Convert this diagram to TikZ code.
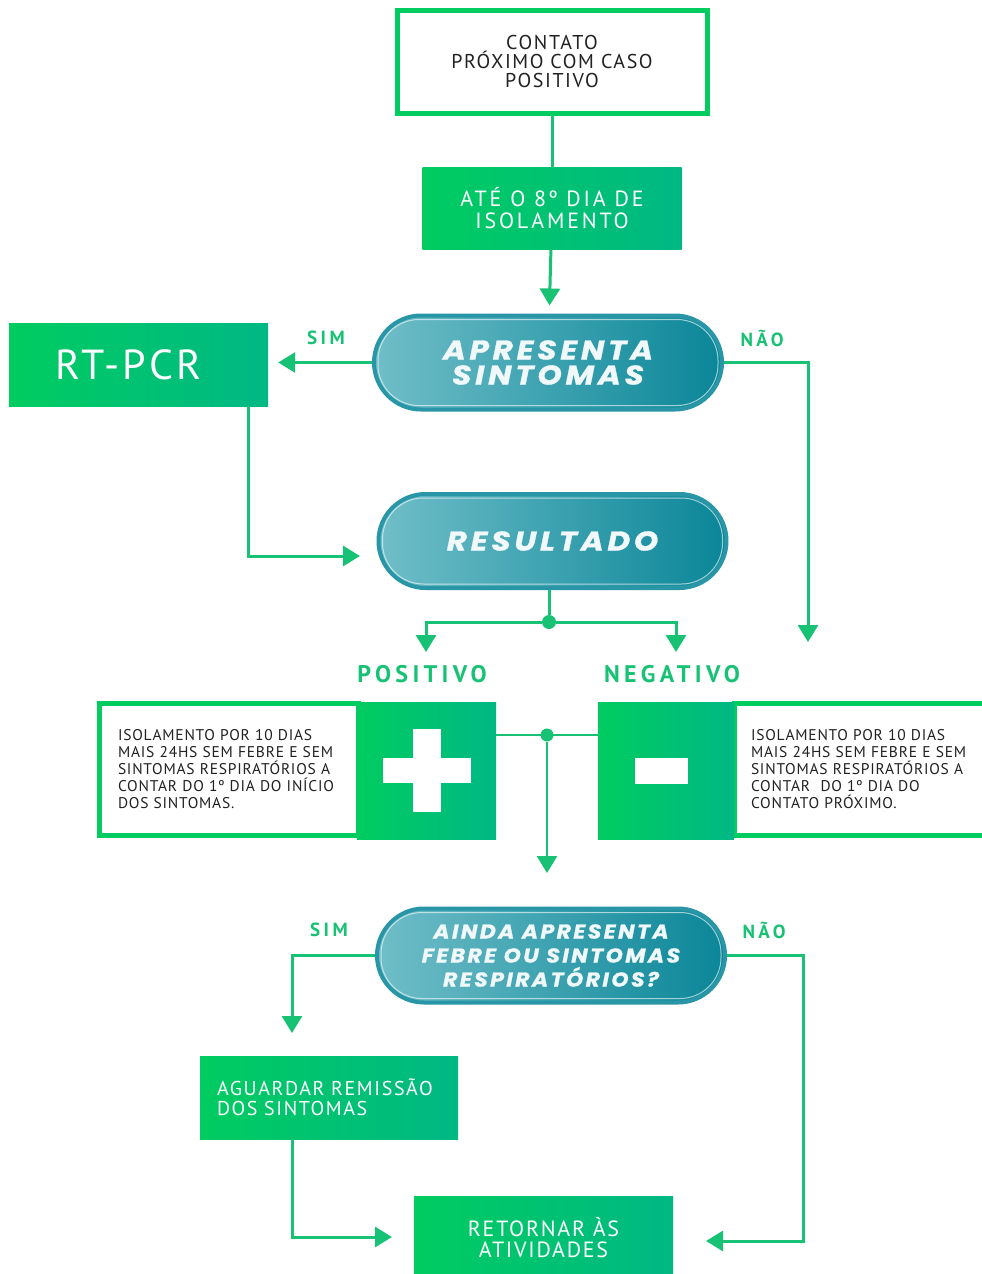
\documentclass[tikz,border=0pt]{standalone}
\usepackage{fontspec}
\setmainfont{PT Sans}
\newfontfamily\pillfont{Poppins}[LetterSpace=14, FakeStretch=1.15, FakeBold=1.2]
\newfontfamily\pillfontsm{Poppins}[LetterSpace=12, FakeStretch=1.1, FakeBold=1.2]
\newfontfamily\boxfont{PT Sans}[LetterSpace=8]
\newfontfamily\atefont{PT Sans}[LetterSpace=13]
\newfontfamily\tagfont{PT Sans}[LetterSpace=18]
\newfontfamily\bodyfont{PT Sans}[LetterSpace=5]
\usetikzlibrary{positioning,arrows.meta}

\definecolor{linegreen}{RGB}{24,194,116}
\definecolor{boxgreenL}{RGB}{0,204,96}
\definecolor{boxgreenR}{RGB}{0,184,132}
\definecolor{pillL}{RGB}{112,190,200}
\definecolor{pillR}{RGB}{10,134,152}
\definecolor{pillring}{RGB}{40,150,166}
\definecolor{pilltext}{RGB}{240,248,250}
\definecolor{bodytext}{RGB}{34,34,34}

\tikzset{
  greenbox/.style={rectangle, left color=boxgreenL, right color=boxgreenR,
    text=white, inner sep=0pt},
  framebox/.style={rectangle, draw=boxgreenL, line width=5pt, fill=white,
    inner sep=0pt},
  pill/.style={rectangle, rounded corners=47pt, draw=pillring, line width=4pt,
    left color=pillL, right color=pillR, text=pilltext,
    minimum width=348pt, minimum height=94pt, align=center,
    font=\pillfont\bfseries\itshape\fontsize{27}{25}\selectfont},
  pillinner/.style={draw=white, opacity=.6, line width=1pt, rounded corners=41pt},
  conn/.style={draw=linegreen, line width=3pt},
  arr/.style={conn, -{Triangle[width=20pt,length=17pt]}},
  tag/.style={text=linegreen, font=\tagfont\bfseries\fontsize{19}{19}\selectfont},
  joint/.style={circle, fill=linegreen, inner sep=0pt, minimum size=14pt},
  bodybox/.style={framebox, minimum height=132pt, text width=222pt, align=left,
    text=bodytext, font=\bodyfont\fontsize{15.5}{17}\selectfont},
}

\begin{document}
\begin{tikzpicture}[x=1pt, y=-1pt]
  \path[use as bounding box, fill=white] (0,0) rectangle (982,1274);

  % boxes
  \node[framebox, minimum width=310pt, minimum height=103pt, align=center,
    text=bodytext, font=\boxfont\fontsize{20}{19}\selectfont]
    (contato) at (552,61.5) {CONTATO\\PRÓXIMO COM CASO\\POSITIVO};
  \node[greenbox, minimum width=259pt, minimum height=82pt, align=center,
    font=\atefont\fontsize{22}{22}\selectfont]
    (ate8) at (552,208) {ATÉ O 8º DIA DE\\ISOLAMENTO};
  \node[pill] (apresenta) at (548,362.5) {APRESENTA\\SINTOMAS};
  \node[greenbox, minimum width=259pt, minimum height=83pt,
    font=\boxfont\fontsize{42}{42}\selectfont]
    (rtpcr) at (138.5,364.5) {RT-PCR\kern20pt};
  \node[pill] (resultado) at (552.5,541) {RESULTADO};

  \node[bodybox, minimum width=259.5pt] (postext) at (229,769.5)
    {ISOLAMENTO POR 10 DIAS\\MAIS 24HS SEM FEBRE E SEM\\SINTOMAS RESPIRATÓRIOS A\\CONTAR DO 1º DIA DO INÍCIO\\DOS SINTOMAS.};
  \node[greenbox, minimum width=139pt, minimum height=137pt] (posmark) at (426.5,770.5) {};
  \fill[white] ([shift={(-14,-41.5)}]posmark.center) rectangle ([shift={(14,41.5)}]posmark.center);
  \fill[white] ([shift={(-44,-12.5)}]posmark.center) rectangle ([shift={(44,12.5)}]posmark.center);

  \node[bodybox, minimum width=256pt] (negtext) at (862,769.5)
    {ISOLAMENTO POR 10 DIAS\\MAIS 24HS SEM FEBRE E SEM\\SINTOMAS RESPIRATÓRIOS A\\CONTAR~~DO 1º DIA DO\\CONTATO PRÓXIMO.};
  \node[greenbox, minimum width=136pt, minimum height=137pt] (negmark) at (666,770.5) {};
  \fill[white] ([shift={(-31,-13)}]negmark.center) rectangle ([shift={(22,13)}]negmark.center);

  \node[pill, font=\pillfontsm\bfseries\itshape\fontsize{20}{24}\selectfont]
    (ainda) at (551,955.5) {AINDA APRESENTA\\FEBRE OU SINTOMAS\\RESPIRATÓRIOS?};
  \node[greenbox, minimum width=258pt, minimum height=83pt, text width=224pt,
    align=left, font=\boxfont\fontsize{20}{20}\selectfont]
    (aguardar) at (329,1097.5) {AGUARDAR REMISSÃO\\DOS SINTOMAS};
  \node[greenbox, minimum width=259pt, minimum height=84pt, align=center,
    font=\boxfont\fontsize{22}{21}\selectfont]
    (retornar) at (543.5,1238) {RETORNAR ÀS\\ATIVIDADES};

  \foreach \p in {apresenta,resultado,ainda}
    \draw[pillinner] ([shift={(6,6)}]\p.north west) rectangle ([shift={(-6,-6)}]\p.south east);

  % labels
  \node[tag] (sim1) at (326,338) {SIM};
  \node[tag] (nao1) at (762,338) {NÃO};
  \node[tag, font=\tagfont\bfseries\fontsize{24}{24}\selectfont] (positivo) at (422,674) {POSITIVO};
  \node[tag, font=\tagfont\bfseries\fontsize{24}{24}\selectfont] (negativo) at (672,674) {NEGATIVO};
  \node[tag] (sim2) at (329,930) {SIM};
  \node[tag] (nao2) at (764,930) {NÃO};

  % connectors
  \coordinate (naoend) at (808,642);
  \coordinate (resin) at (360,556);
  \coordinate (posin) at (426,652);
  \coordinate (negin) at (676,652);
  \coordinate (aindain) at (547,873);
  \coordinate (simend) at (292,1033);
  \coordinate (retin1) at (392,1237);
  \coordinate (retin2) at (706,1241);
  \coordinate (naox) at (803,1241);

  \draw[conn] (contato) -- (ate8);
  \draw[arr, shorten >=8pt] (ate8) -- (apresenta);
  \draw[arr, shorten >=10pt] (apresenta.west) -- (rtpcr.east |- apresenta.west);
  \draw[arr] (apresenta.east) -| (naoend);
  \draw[arr] ([xshift=-20pt]rtpcr.south east) |- (resin);

  \node[joint] (split1) at (549,622) {};
  \draw[conn] (resultado.south -| split1) -- (split1);
  \draw[arr] (split1) -| (posin);
  \draw[arr] (split1) -| (negin);

  \node[joint, minimum size=13pt] (split2) at (547,735) {};
  \draw[conn, line width=2.5pt] (posmark.east |- split2) -- (negmark.west |- split2);
  \draw[arr, line width=2.5pt] (split2) -- (aindain);

  \draw[arr] (ainda.west) -| (simend);
  \draw[arr] (ainda.east) -- (ainda.east -| naox) |- (retin2);
  \draw[arr] ([xshift=-37pt]aguardar.south) |- (retin1);
\end{tikzpicture}
\end{document}
